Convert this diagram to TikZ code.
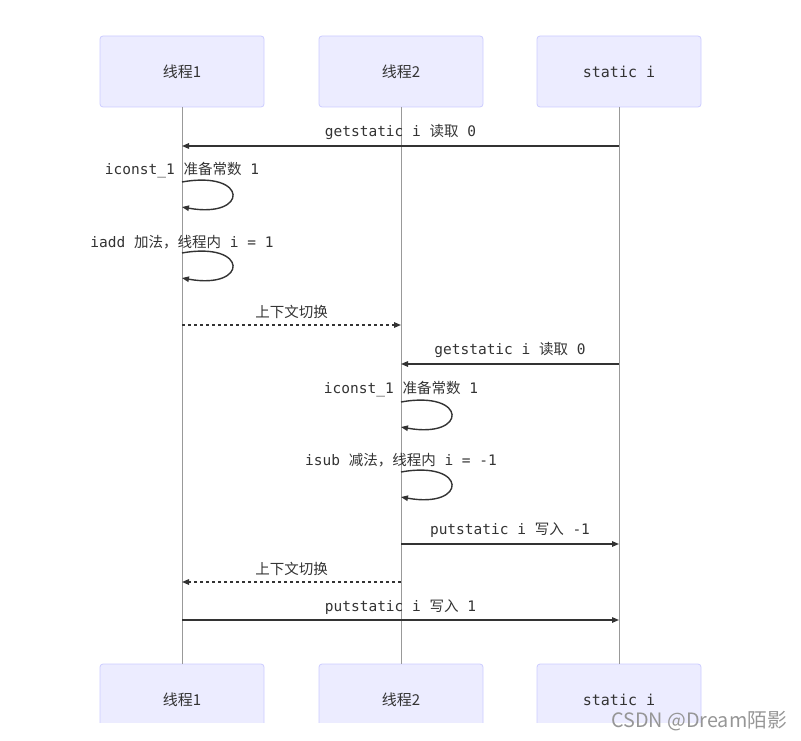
\documentclass[tikz,border=0pt]{standalone}
\usepackage{fontspec}
\setmonofont{DejaVu Sans Mono}
\newfontfamily\cjk{Noto Sans CJK SC}
\usetikzlibrary{arrows.meta}
\definecolor{actorfill}{RGB}{236,236,255}
\definecolor{actorline}{RGB}{204,204,255}
\definecolor{ink}{RGB}{51,51,51}
\definecolor{lifegray}{RGB}{153,153,153}
\definecolor{wmgray}{RGB}{150,150,150}

\begin{document}
\begin{tikzpicture}[
    x=1pt, y=-1pt,
    actor/.style={rectangle, rounded corners=3pt, draw=actorline, fill=actorfill,
      line width=0.8pt, minimum width=164pt, minimum height=71pt, inner sep=0pt,
      text=ink, font=\fontsize{15}{17}\selectfont},
    life/.style={draw=lifegray, line width=0.8pt},
    msg/.style={draw=ink, line width=1.4pt, -{Triangle[length=7pt,width=5.5pt]}},
    switch/.style={msg, dash pattern=on 3pt off 3pt},
    lab/.style={text=ink, inner sep=0pt, font=\ttfamily\fontsize{14.5}{17}\selectfont},
    wm/.style={text=wmgray, inner sep=0pt, font=\cjk\fontsize{19.8}{22}\selectfont}]
  \useasboundingbox (0,0) rectangle (801,741);
  % participants
  \node[actor] (t1) at (182,71.5) {\cjk 线程1};
  \node[actor] (t2) at (401,71.5) {\cjk 线程2};
  \node[actor] (st) at (619,71.5) {\ttfamily static i};
  \begin{scope}
    \clip (0,0) rectangle (801,722);
    \node[actor] (t1b) at (182,699.5) {\cjk 线程1};
    \node[actor] (t2b) at (401,699.5) {\cjk 线程2};
    \node[actor] (stb) at (619,699.5) {\ttfamily static i};
  \end{scope}
  % lifelines
  \draw[life] (t1.south) -- (t1b.north);
  \draw[life] (t2.south) -- (t2b.north);
  \draw[life] (st.south) -- (stb.north);
  % thread 1
  \coordinate (r1a) at (619,146);
  \coordinate (r1b) at (182,146);
  \draw[msg] (r1a) -- node[lab, yshift=14pt] (r1t) {getstatic i {\cjk 读取} 0} (r1b);
  \coordinate (c1a) at (182,182);
  \coordinate (c1b) at (182,207);
  \node[lab] (c1t) at (182,170) {iconst\_1 {\cjk 准备常数} 1};
  \draw[msg] (c1a) .. controls +(67,-12) and +(67,12) .. (c1b);
  \coordinate (a1a) at (182,253);
  \coordinate (a1b) at (182,278);
  \node[lab] (a1t) at (182,242) {iadd {\cjk 加法，线程内} i = 1};
  \draw[msg] (a1a) .. controls +(67,-12) and +(67,12) .. (a1b);
  % switch to thread 2
  \coordinate (s1a) at (182,325);
  \coordinate (s1b) at (401,325);
  \draw[switch] (s1a) -- node[lab, yshift=13pt] (s1t) {\cjk 上下文切换} (s1b);
  % thread 2
  \coordinate (r2a) at (619,364);
  \coordinate (r2b) at (401,364);
  \draw[msg] (r2a) -- node[lab, yshift=14pt] (r2t) {getstatic i {\cjk 读取} 0} (r2b);
  \coordinate (c2a) at (401,402);
  \coordinate (c2b) at (401,427);
  \node[lab] (c2t) at (401,389) {iconst\_1 {\cjk 准备常数} 1};
  \draw[msg] (c2a) .. controls +(67,-12) and +(67,12) .. (c2b);
  \coordinate (u2a) at (401,472);
  \coordinate (u2b) at (401,497);
  \node[lab] (u2t) at (401,460) {isub {\cjk 减法，线程内} i = -1};
  \draw[msg] (u2a) .. controls +(67,-12) and +(67,12) .. (u2b);
  \coordinate (w2a) at (401,544);
  \coordinate (w2b) at (619,544);
  \draw[msg] (w2a) -- node[lab, yshift=14pt] (w2t) {putstatic i {\cjk 写入} -1} (w2b);
  % switch back, thread 1 writes
  \coordinate (s2a) at (401,582);
  \coordinate (s2b) at (182,582);
  \draw[switch] (s2a) -- node[lab, yshift=13pt] (s2t) {\cjk 上下文切换} (s2b);
  \coordinate (w1a) at (182,620);
  \coordinate (w1b) at (619,620);
  \draw[msg] (w1a) -- node[lab, yshift=13pt] (w1t) {putstatic i {\cjk 写入} 1} (w1b);
  % watermark
  \node[wm, anchor=west] (wmk) at (611,721) {CSDN @Dream陌影};
\end{tikzpicture}
\end{document}
